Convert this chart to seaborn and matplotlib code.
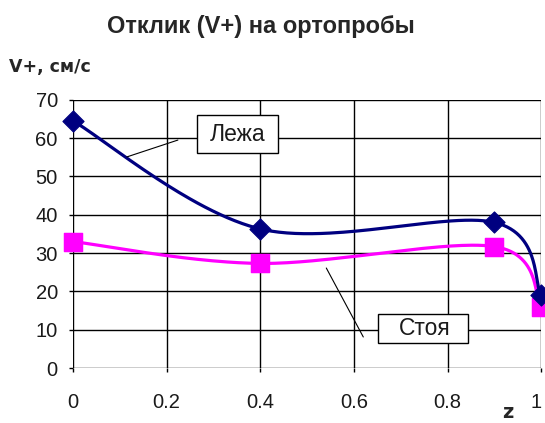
import numpy as np
import pandas as pd
import matplotlib
matplotlib.use("Agg")
import matplotlib.pyplot as plt
import matplotlib.transforms as mtransforms
from matplotlib.patches import Rectangle
import seaborn as sns

z = [0, 0.4, 0.9, 1]
v_lezha = [64.5, 36.3, 38.0, 19.0]
v_stoya = [33.0, 27.3, 31.7, 15.8]
y_ticks = [0, 10, 20, 30, 40, 50, 60, 70]
x_ticks = [0, 0.2, 0.4, 0.6, 0.8, 1]
x_labels = ["0", "0.2", "0.4", "0.6", "0.8", "1"]


def excel_smooth(xs, ys, n=60):
    # сглаживание как в Excel (Безье через Catmull-Rom)
    pts = np.column_stack([xs, ys]).astype(float)
    pts = np.vstack([pts[0], pts, pts[-1]])
    out = []
    for i in range(1, len(pts) - 2):
        p0, p1, p2, p3 = pts[i - 1], pts[i], pts[i + 1], pts[i + 2]
        c1 = p1 + (p2 - p0) / 6
        c2 = p2 - (p3 - p1) / 6
        t = np.linspace(0, 1, n)[:, None]
        seg = (1 - t) ** 3 * p1 + 3 * (1 - t) ** 2 * t * c1 + 3 * (1 - t) * t ** 2 * c2 + t ** 3 * p2
        out.append(seg)
    seg = np.vstack(out)
    return seg[:, 0], seg[:, 1]


sns.set_style("white")
plt.rcParams['font.family'] = ['Liberation Sans', 'DejaVu Sans']

fig = plt.figure(figsize=(5.45, 4.23), dpi=100)
ax = fig.add_axes([0.134, 0.130, 0.859, 0.634])

sx, sy = excel_smooth(z, v_lezha)
df1 = pd.DataFrame({"z": sx, "v": sy})
sx2, sy2 = excel_smooth(z, v_stoya)
df2 = pd.DataFrame({"z": sx2, "v": sy2})

sns.lineplot(data=df2, x="z", y="v", sort=False, color="#FF00FF", linewidth=2.3, ax=ax, zorder=3)
sns.lineplot(data=df1, x="z", y="v", sort=False, color="#000080", linewidth=2.3, ax=ax, zorder=4)
sns.scatterplot(x=z, y=v_stoya, marker="s", s=175, color="#FF00FF", edgecolor="#FF00FF", ax=ax, zorder=5, clip_on=False)
sns.scatterplot(x=z, y=v_lezha, marker="D", s=115, color="#000080", edgecolor="#000080", ax=ax, zorder=6, clip_on=False)

ax.set_xlim(0, 1)
ax.set_ylim(0, 70)
ax.set_xticks(x_ticks)
ax.set_xticklabels(x_labels)
ax.set_yticks(y_ticks)
ax.grid(True, color="black", linewidth=1)
for s in ax.spines.values():
    s.set_visible(False)
ax.tick_params(axis="both", direction="out", length=3, width=1, color="black",
               labelsize=14.5, labelcolor="#1a1a1a", left=True, bottom=True)
ax.tick_params(axis="x", pad=15)
ax.tick_params(axis="y", pad=8)
ax.set_xlabel("")
ax.set_ylabel("")

# последнюю подпись "1" чуть левее, чтобы не обрезалась
last = ax.get_xticklabels()[-1]
last.set_transform(last.get_transform() + mtransforms.ScaledTranslation(-5 / 100, 0, fig.dpi_scale_trans))

# подписи рядов
ax.plot([0.224, 0.115], [59.5, 55.1], color="black", linewidth=0.8, zorder=7)
ax.add_patch(Rectangle((0.265, 56.1), 0.173, 10.0, facecolor="white", edgecolor="black",
                       linewidth=1, zorder=8))
ax.text(0.351, 61.0, "Лежа", fontsize=16.5, ha="center", va="center", color="#1a1a1a", zorder=9)

ax.plot([0.541, 0.62], [26.1, 8.1], color="black", linewidth=0.8, zorder=7)
ax.add_patch(Rectangle((0.652, 6.5), 0.192, 7.6, facecolor="white", edgecolor="black",
                       linewidth=1, zorder=8))
ax.text(0.752, 10.2, "Стоя", fontsize=16.5, ha="center", va="center", color="#1a1a1a", zorder=9)

fig.text(0.478, 0.922, "Отклик (V+) на ортопробы", fontsize=17, fontweight="bold",
         ha="center", va="baseline")
fig.text(0.016, 0.830, "V+, см/с", fontsize=12.5, fontweight="bold", ha="left", va="baseline",
         family="DejaVu Sans")
fig.text(0.932, 0.012, "z", fontsize=14, fontweight="bold", ha="center", va="baseline",
         family="DejaVu Sans")

fig.savefig("out.png", dpi=100)
